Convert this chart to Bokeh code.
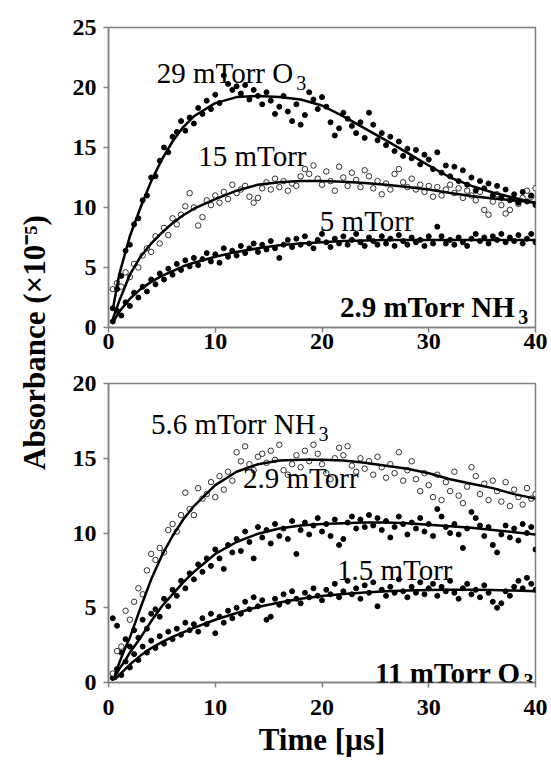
import numpy as np
from bokeh.plotting import figure
from bokeh.layouts import row, column
from bokeh.models import Range1d, Label, FixedTicker
from bokeh.embed import file_html
from bokeh.resources import INLINE

# ---------------- data ----------------
# sampling times of the measured traces (µs)
t = np.round(np.arange(1, 101) * 0.4, 1)

# top panel: 2.9 mTorr NH3, varying O3
o3_29 = [1.6, 3.2, 4.3, 6.4, 6.9, 8.6, 9.1, 10.6, 11.0, 12.5,
         12.6, 13.9, 15.0, 14.6, 15.9, 16.3, 17.2, 16.4, 17.5, 17.0,
         18.3, 17.8, 18.9, 18.2, 19.4, 18.7, 21.0, 20.3, 19.8, 20.1,
         19.5, 20.2, 19.0, 19.8, 19.3, 18.6, 19.6, 18.9, 17.8, 18.4,
         19.3, 18.0, 17.2, 18.6, 16.9, 17.7, 19.6, 19.0, 18.2, 19.2,
         18.4, 17.1, 16.0, 16.6, 17.9, 17.4, 16.8, 16.2, 17.1, 15.8,
         17.9, 16.9, 15.6, 16.2, 15.2, 15.9, 14.7, 15.5, 14.3, 14.9,
         14.1, 14.8, 13.6, 14.4, 14.0, 13.2, 14.6, 12.9, 13.5, 12.6,
         13.4, 12.2, 13.1, 11.9, 12.5, 11.4, 12.2, 11.6, 12.0, 11.0,
         11.8, 10.8, 11.5, 10.6, 11.1, 10.4, 11.3, 10.5, 11.0, 10.2]
o3_15 = [3.2, 3.7, 3.4, 4.6, 4.2, 5.3, 5.0, 6.0, 6.6, 6.3,
         7.6, 7.0, 8.3, 7.7, 9.1, 8.6, 9.4, 10.1, 11.2, 10.0,
         8.5, 9.2, 10.6, 10.2, 11.0, 10.4, 11.3, 10.7, 11.9, 11.2,
         11.5, 11.8, 10.9, 10.4, 10.8, 11.6, 12.1, 11.5, 12.4, 11.7,
         12.2, 11.4, 12.0, 11.8, 12.6, 13.2, 12.8, 13.5, 12.4, 11.9,
         13.0, 12.2, 11.4, 13.4, 12.5, 11.8, 12.9, 12.3, 11.7, 13.1,
         12.6, 11.6, 12.2, 11.1, 12.0, 11.5, 12.8, 13.2, 12.1, 11.7,
         12.4, 11.5, 11.9, 11.3, 11.8, 10.9, 11.7, 11.0, 11.5, 11.9,
         11.2, 11.6, 10.8, 11.4, 11.0, 10.6, 11.3, 9.8, 9.4, 10.5,
         11.1, 10.2, 9.5, 9.8, 10.7, 10.3, 10.8, 11.4, 10.9, 11.6]
o3_5 = [0.5, 1.4, 1.0, 2.1, 1.8, 2.9, 2.5, 3.4, 3.0, 4.0,
        3.6, 4.5, 4.0, 4.9, 4.4, 5.3, 4.8, 5.6, 5.1, 5.8,
        5.2, 5.7, 6.2, 5.5, 6.1, 5.4, 6.6, 5.9, 6.4, 6.0,
        6.8, 6.2, 6.6, 7.0, 6.3, 6.9, 6.5, 7.2, 6.6, 5.8,
        6.9, 7.3, 6.7, 7.4, 6.9, 7.6, 7.0, 6.6, 7.3, 7.8,
        7.1, 6.7, 7.4, 7.0, 7.6, 6.9, 7.3, 7.8, 7.1, 6.8,
        7.5, 7.2, 6.9, 7.6, 7.0, 7.4, 6.8, 7.7, 7.2, 6.9,
        7.5, 7.1, 7.3, 6.8, 7.6, 7.0, 8.4, 7.6, 7.0, 7.3,
        6.9, 7.5, 7.1, 6.8, 7.4, 7.8, 7.2, 7.5, 7.0, 7.6,
        7.3, 7.8, 7.1, 7.5, 7.2, 7.7, 7.0, 7.4, 7.8, 7.1]

# top panel fitted curves
tf_top = [0.4, 1, 2, 3, 4, 5, 6, 7, 8, 10, 12, 14, 16, 18, 20, 22, 24, 26, 28, 30, 32, 34, 36, 38, 40]
fit_29 = [1.5, 4.4, 7.6, 10.0, 12.2, 14.0, 15.5, 16.7, 17.6, 18.7, 19.2, 19.3, 19.2, 19.0, 18.5,
          17.6, 16.6, 15.6, 14.55, 13.5, 12.5, 11.8, 11.25, 10.8, 10.4]
fit_15 = [0.7, 2.2, 4.4, 5.9, 7.0, 7.9, 8.7, 9.35, 9.9, 10.7, 11.4, 11.9, 12.1, 12.2, 12.2,
          12.15, 12.05, 11.9, 11.7, 11.5, 11.2, 10.95, 10.75, 10.6, 10.4]
fit_5 = [0.4, 1.3, 2.4, 3.2, 3.8, 4.3, 4.7, 5.1, 5.4, 5.9, 6.3, 6.6, 6.85, 7.0, 7.1,
         7.2, 7.25, 7.3, 7.3, 7.3, 7.3, 7.3, 7.3, 7.3, 7.3]

# bottom panel: 11 mTorr O3, varying NH3
nh3_56 = [0.6, 2.1, 2.4, 4.8, 4.2, 5.4, 6.3, 5.9, 7.5, 8.6,
          8.2, 9.0, 8.7, 10.2, 10.6, 10.1, 11.2, 12.7, 11.6, 11.2,
          13.0, 12.3, 12.6, 13.4, 12.4, 13.8, 12.9, 14.1, 13.5, 15.4,
          14.8, 15.8, 14.6, 14.2, 15.1, 15.3, 14.7, 15.5, 14.9, 15.9,
          14.2, 13.9, 14.6, 15.2, 14.4, 15.5, 14.8, 15.9, 15.3, 14.6,
          14.0, 13.6, 15.0, 15.7, 15.2, 15.8, 14.5, 14.1, 15.0, 14.3,
          14.8, 13.9, 15.1, 14.4, 13.7, 14.6, 14.0, 15.4, 13.5, 14.2,
          14.8, 13.6, 12.8, 14.0, 13.2, 12.4, 13.9, 12.2, 13.4, 12.8,
          14.1, 12.5, 12.0, 13.1, 14.4, 13.8, 12.6, 13.3, 12.2, 13.5,
          12.8, 12.1, 13.4, 11.8, 12.9, 12.4, 11.9, 13.0, 12.3, 12.6]
nh3_29 = [4.3, 3.8, 2.0, 2.9, 2.4, 3.5, 3.0, 4.2, 3.6, 4.6,
          4.9, 4.4, 5.6, 5.1, 6.2, 5.8, 6.8, 6.3, 7.3, 6.9,
          7.9, 7.4, 8.3, 7.8, 8.9, 8.3, 7.6, 9.2, 8.7, 9.6,
          8.8, 10.1, 9.4, 8.3, 10.4, 9.7, 10.2, 9.3, 10.6, 9.8,
          10.3, 9.6, 10.8, 8.6, 10.2, 10.7, 9.9, 10.5, 11.0, 10.1,
          10.6, 9.8, 10.9, 9.2, 9.6, 10.7, 11.1, 10.3, 10.9, 10.4,
          11.2, 10.5, 11.0, 10.2, 10.8, 9.7, 10.4, 11.1, 10.6, 9.9,
          10.7, 10.3, 11.0, 10.1, 10.6, 9.8, 11.6, 11.1, 10.4, 10.0,
          10.6, 9.9, 9.0, 10.3, 11.4, 11.0, 10.5, 9.8, 10.4, 9.2,
          8.7, 9.9, 10.5, 9.7, 10.3, 9.5, 10.6, 10.0, 10.4, 8.9]
nh3_15 = [0.3, 0.9, 0.5, 1.4, 1.0, 1.9, 1.5, 2.4, 2.0, 2.8,
          2.3, 3.1, 2.6, 3.4, 2.9, 3.6, 3.2, 4.0, 3.5, 3.9,
          3.4, 4.3, 3.9, 4.6, 3.3, 4.4, 4.0, 4.8, 4.3, 5.0,
          4.6, 5.4, 4.9, 5.7, 5.1, 5.5, 4.2, 4.4, 5.6, 5.2,
          5.9, 5.4, 6.1, 5.6, 5.3, 6.0, 5.7, 6.3, 5.8, 5.5,
          6.2, 5.9, 6.6, 5.7, 6.1, 6.8, 5.9, 6.3, 5.6, 6.5,
          6.0, 6.7, 5.1, 6.2, 5.8, 6.4, 6.0, 6.9, 6.1, 5.7,
          6.4, 6.0, 6.7, 5.9, 6.3, 6.6, 5.8, 6.4, 6.1, 6.8,
          6.0, 5.6, 6.3, 6.6, 5.9, 6.2, 5.7, 6.5, 6.0, 5.4,
          5.0, 5.3, 6.1, 5.8, 6.4, 6.8, 6.3, 7.0, 6.6, 6.2]

# bottom panel fitted curves
tf_bot = [0.6, 1, 1.5, 2, 3, 4, 5, 6, 7, 8, 10, 12, 14, 16, 18, 20, 22, 24, 26, 28, 30, 32, 34, 36, 38, 40]
fit_56 = [0.5, 1.3, 2.2, 3.0, 5.0, 6.9, 8.5, 9.8, 10.9, 11.8, 13.2, 14.1, 14.6, 14.85, 14.9, 14.9,
          14.85, 14.7, 14.5, 14.3, 14.0, 13.6, 13.3, 13.0, 12.6, 12.3]
fit_29b = [0.4, 0.9, 1.4, 2.0, 3.0, 4.1, 5.1, 5.9, 6.7, 7.4, 8.6, 9.4, 9.95, 10.3, 10.5, 10.6,
           10.65, 10.7, 10.7, 10.65, 10.55, 10.45, 10.35, 10.2, 10.05, 9.9]
fit_15b = [0.2, 0.5, 0.85, 1.2, 1.8, 2.3, 2.7, 3.05, 3.35, 3.65, 4.2, 4.65, 5.05, 5.35, 5.6, 5.78,
           5.92, 6.02, 6.1, 6.15, 6.18, 6.2, 6.2, 6.18, 6.15, 6.1]

x_ticks = [0, 10, 20, 30, 40]
y_ticks_top = [0, 5, 10, 15, 20, 25]
y_ticks_bot = [0, 5, 10, 15, 20]

FONT = "Liberation Serif"
GRAY = "#808080"


def style(p, yticks):
    p.grid.visible = False
    p.outline_line_color = GRAY
    p.outline_line_width = 1.5
    p.xaxis.ticker = FixedTicker(ticks=x_ticks)
    p.yaxis.ticker = FixedTicker(ticks=yticks)
    for ax in p.axis:
        ax.axis_line_color = GRAY
        ax.axis_line_width = 1.5
        ax.major_tick_line_color = GRAY
        ax.major_tick_line_width = 1.5
        ax.major_tick_out = 5
        ax.major_tick_in = 0
        ax.minor_tick_line_color = None
        ax.major_label_text_font = FONT
        ax.major_label_text_font_style = "bold"
        ax.major_label_text_font_size = "24px"
        ax.major_label_text_color = "black"
    p.yaxis.major_label_standoff = 7


def add_text(p, x, y, text, size="29px", bold=False, align="left", dx=0):
    p.add_layout(Label(x=x, y=y, text=text, text_align=align, text_baseline="alphabetic",
                       x_offset=dx, text_font=FONT, text_font_size=size, text_color="black",
                       text_font_style="bold" if bold else "normal"))


# ---------------- top panel ----------------
top = figure(frame_width=427, frame_height=300, min_border_left=52, min_border_right=12,
             min_border_top=27, min_border_bottom=38,
             x_range=Range1d(0, 40), y_range=Range1d(0, 25),
             toolbar_location=None, output_backend="svg")
style(top, y_ticks_top)
top.xaxis.major_label_standoff = 1

top.scatter(t, o3_5, size=5, color="black")
top.scatter(t, o3_15, size=5.5, fill_color="white", line_color="black", line_width=0.8)
top.scatter(t, o3_29, size=5, color="black")
for fy in (fit_29, fit_15, fit_5):
    top.line(tf_top, fy, line_color="black", line_width=2.5)

add_text(top, 17.3, 21.25, "29 mTorr O", align="right")
add_text(top, 17.3, 20.4, "3", size="20px", dx=3)
add_text(top, 8.4, 14.3, "15 mTorr")
add_text(top, 19.8, 8.9, "5 mTorr")
add_text(top, 38.1, 1.7, "2.9 mTorr NH", bold=True, align="right")
add_text(top, 38.1, 0.85, "3", size="20px", bold=True, dx=3)

# ---------------- bottom panel ----------------
bot = figure(frame_width=427, frame_height=299, min_border_left=52, min_border_right=12,
             min_border_top=18, min_border_bottom=78,
             x_range=Range1d(0, 40), y_range=Range1d(0, 20),
             toolbar_location=None, output_backend="svg")
style(bot, y_ticks_bot)
bot.xaxis.major_label_standoff = 12
bot.xaxis.axis_label = "Time [µs]"
bot.xaxis.axis_label_text_font = FONT
bot.xaxis.axis_label_text_font_style = "bold"
bot.xaxis.axis_label_text_font_size = "31px"
bot.xaxis.axis_label_text_color = "black"
bot.xaxis.axis_label_standoff = 4

bot.scatter(t, nh3_15, size=5, color="black")
bot.scatter(t, nh3_29, size=5, color="black")
bot.scatter(t, nh3_56, size=5.5, fill_color="white", line_color="black", line_width=0.8)
for fy in (fit_56, fit_29b, fit_15b):
    bot.line(tf_bot, fy, line_color="black", line_width=2.5)

add_text(bot, 19.4, 17.3, "5.6 mTorr NH", align="right")
add_text(bot, 19.4, 16.63, "3", size="20px", dx=3)
add_text(bot, 12.6, 13.7, "2.9 mTorr")
add_text(bot, 21.4, 7.5, "1.5 mTorr")
add_text(bot, 38.6, 0.65, "11 mTorr O", bold=True, align="right")
add_text(bot, 38.6, 0.08, "3", size="20px", bold=True, dx=3)

# ---------------- shared y-axis title ----------------
lab = figure(width=56, height=760, min_border=0, x_axis_location=None, y_axis_location=None,
             x_range=Range1d(0, 1), y_range=Range1d(0, 1),
             toolbar_location=None, output_backend="svg")
lab.grid.visible = False
lab.outline_line_color = None
lab.add_layout(Label(x=34, y=418, x_units="screen", y_units="screen", angle=np.pi / 2,
                     text="Absorbance (×10⁻⁵)", text_align="center", text_baseline="middle",
                     text_font=FONT, text_font_style="bold", text_font_size="31px",
                     text_color="black"))

layout = row(lab, column(top, bot))
open("out.html", "w").write(file_html(layout, INLINE))
